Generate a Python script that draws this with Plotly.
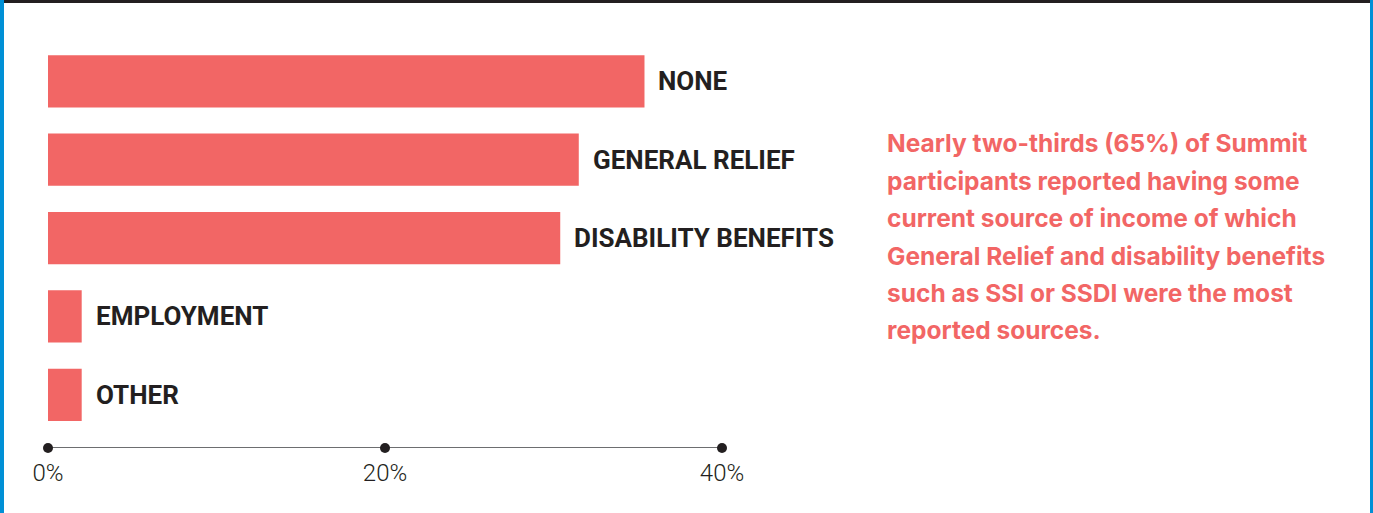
import plotly.graph_objects as go

categories = ["NONE", "GENERAL RELIEF", "DISABILITY BENEFITS", "EMPLOYMENT", "OTHER"]
values = [35.4, 31.5, 30.4, 2.0, 2.0]
tick_values = [0, 20, 40]
tick_labels = ["0%", "20%", "40%"]
paragraph_lines = [
    "Nearly two-thirds (65%) of Summit",
    "participants reported having some",
    "current source of income of which",
    "General Relief and disability benefits",
    "such as SSI or SSDI were the most",
    "reported sources.",
]

W, H = 1373, 513
L, R, T, B = 48, 651, 0, 65
PW, PH = W - L - R, H - T - B

CORAL = "#f26665"
DARK = "#231f20"
BLUE = "#0090d6"

def px_x(p):
    return (p - L) / PW

def px_y(p):
    return (PH + T - p) / PH

fig = go.Figure()
fig.add_trace(go.Bar(
    x=values, y=categories, orientation="h",
    marker=dict(color=CORAL, line=dict(width=0)),
    width=0.667, hoverinfo="skip", showlegend=False,
))
fig.add_trace(go.Scatter(
    x=tick_values, y=[0] * len(tick_values), yaxis="y2",
    mode="lines+markers",
    line=dict(color="#6d6e70", width=2),
    marker=dict(color=DARK, size=10),
    cliponaxis=False, hoverinfo="skip", showlegend=False,
))

annotations = []
for c, v in zip(categories, values):
    annotations.append(dict(
        x=v, y=c, xref="x", yref="y", text=c, showarrow=False,
        xanchor="left", yanchor="middle", xshift=12,
        font=dict(family="Roboto, sans-serif", size=26, color=DARK, weight="bold"),
    ))

line_centers = [143, 181, 218, 256, 293, 330]
for txt, cy in zip(paragraph_lines, line_centers):
    annotations.append(dict(
        x=px_x(885), y=px_y(cy), xref="paper", yref="paper", text=txt,
        showarrow=False, xanchor="left", yanchor="middle",
        font=dict(family="Inter, Roboto, sans-serif", size=24.5, color=CORAL, weight="bold"),
    ))

shapes = [
    dict(type="rect", xref="paper", yref="paper", x0=px_x(3), x1=px_x(1371), y0=px_y(3), y1=px_y(0),
         fillcolor=DARK, line=dict(width=0), layer="above"),
    dict(type="rect", xref="paper", yref="paper", x0=px_x(0), x1=px_x(4), y0=px_y(H), y1=px_y(0),
         fillcolor=BLUE, line=dict(width=0), layer="above"),
    dict(type="rect", xref="paper", yref="paper", x0=px_x(1370), x1=px_x(1373), y0=px_y(H), y1=px_y(0),
         fillcolor=BLUE, line=dict(width=0), layer="above"),
]

fig.update_layout(
    width=W, height=H,
    margin=dict(l=L, r=R, t=T, b=B),
    paper_bgcolor="white", plot_bgcolor="white",
    xaxis=dict(range=[0, 40], tickvals=tick_values, ticktext=tick_labels,
               showgrid=False, zeroline=False, showline=False, ticks="",
               ticklabelstandoff=8,
               tickfont=dict(family="Roboto, sans-serif", size=24, color=DARK, weight=300)),
    yaxis=dict(categoryorder="array", categoryarray=categories,
               range=[4.679, -1.038], showticklabels=False, showgrid=False,
               zeroline=False, showline=False, ticks=""),
    yaxis2=dict(overlaying="y", range=[0, 1], visible=False),
    annotations=annotations,
    shapes=shapes,
    bargap=0.333,
)

fig.write_html("out.html", config={"displayModeBar": False},
               post_script="document.body.style.margin='0';document.body.style.overflow='hidden';")
